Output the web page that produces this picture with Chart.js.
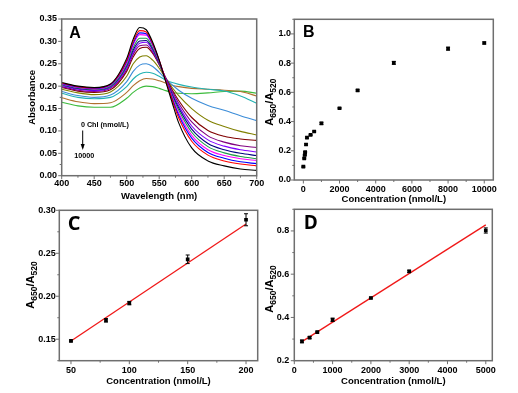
<!DOCTYPE html>
<html lang="en">
<head>
<meta charset="UTF-8">
<title>Chl absorbance panels</title>
<script src="https://cdn.jsdelivr.net/npm/chart.js@4.4.1/dist/chart.umd.min.js"></script>
<style>
  html, body { margin: 0; padding: 0; background: #fff; }
  #wrap { position: relative; width: 518px; height: 393px; }
  #wrap canvas { position: absolute; left: 0; top: 0; }
</style>
</head>
<body>
<div id="wrap">
  <canvas id="chartA" width="518" height="393"></canvas>
  <canvas id="chartB" width="518" height="393"></canvas>
  <canvas id="chartC" width="518" height="393"></canvas>
  <canvas id="chartD" width="518" height="393"></canvas>
</div>
<script>
const FONT = "'Liberation Sans', Arial, sans-serif";

// ---- panel A: spectra ----
const wavelength = [400, 425, 450, 475, 500, 510, 520, 530, 540, 550, 560, 570, 580, 600, 625, 650, 675, 700];
const chlLevels = [0, 50, 80, 100, 150, 200, 400, 600, 1000, 2000, 3000, 5000, 8000, 10000];
const abs0     = [0.208, 0.200, 0.197, 0.205, 0.262, 0.305, 0.331, 0.326, 0.298, 0.258, 0.210, 0.163, 0.118, 0.062, 0.033, 0.022, 0.015, 0.012];
const abs50    = [0.207, 0.199, 0.196, 0.204, 0.258, 0.300, 0.324, 0.321, 0.295, 0.258, 0.213, 0.169, 0.129, 0.077, 0.046, 0.033, 0.026, 0.022];
const abs80    = [0.206, 0.198, 0.195, 0.203, 0.255, 0.296, 0.319, 0.317, 0.293, 0.257, 0.214, 0.172, 0.135, 0.084, 0.052, 0.039, 0.031, 0.027];
const abs100   = [0.205, 0.197, 0.194, 0.202, 0.252, 0.292, 0.315, 0.314, 0.291, 0.256, 0.215, 0.175, 0.140, 0.090, 0.058, 0.045, 0.038, 0.034];
const abs150   = [0.204, 0.196, 0.193, 0.200, 0.248, 0.286, 0.307, 0.307, 0.286, 0.253, 0.215, 0.178, 0.146, 0.097, 0.065, 0.051, 0.043, 0.038];
const abs200   = [0.203, 0.195, 0.192, 0.199, 0.245, 0.281, 0.301, 0.302, 0.283, 0.252, 0.216, 0.181, 0.151, 0.104, 0.072, 0.058, 0.050, 0.045];
const abs400   = [0.201, 0.193, 0.190, 0.197, 0.241, 0.276, 0.296, 0.298, 0.280, 0.251, 0.217, 0.184, 0.156, 0.111, 0.080, 0.066, 0.058, 0.053];
const abs600   = [0.199, 0.191, 0.188, 0.195, 0.237, 0.271, 0.290, 0.292, 0.276, 0.249, 0.218, 0.188, 0.162, 0.120, 0.089, 0.075, 0.067, 0.063];
const abs1000  = [0.197, 0.189, 0.186, 0.192, 0.233, 0.265, 0.284, 0.287, 0.273, 0.248, 0.219, 0.192, 0.168, 0.130, 0.101, 0.088, 0.082, 0.079];
const abs2000  = [0.193, 0.185, 0.181, 0.187, 0.222, 0.250, 0.265, 0.268, 0.258, 0.240, 0.218, 0.197, 0.179, 0.150, 0.124, 0.110, 0.099, 0.091];
const abs3000  = [0.188, 0.179, 0.175, 0.180, 0.210, 0.233, 0.247, 0.250, 0.244, 0.231, 0.216, 0.203, 0.191, 0.173, 0.157, 0.146, 0.134, 0.123];
const abs5000  = [0.184, 0.175, 0.172, 0.175, 0.199, 0.216, 0.227, 0.231, 0.229, 0.222, 0.214, 0.208, 0.204, 0.198, 0.193, 0.189, 0.178, 0.162];
const abs8000  = [0.174, 0.165, 0.161, 0.163, 0.186, 0.201, 0.212, 0.217, 0.216, 0.212, 0.207, 0.202, 0.199, 0.195, 0.193, 0.191, 0.188, 0.178];
const abs10000 = [0.164, 0.156, 0.153, 0.153, 0.173, 0.186, 0.196, 0.200, 0.199, 0.195, 0.190, 0.186, 0.184, 0.183, 0.185, 0.188, 0.189, 0.184];
const absCurves = [abs0, abs50, abs80, abs100, abs150, abs200, abs400, abs600, abs1000, abs2000, abs3000, abs5000, abs8000, abs10000];
const curveColors = ['#000000', '#ff0000', '#0000ff', '#ff00ff', '#1f9a4a', '#000080', '#8000ff', '#800080',
                     '#800000', '#808000', '#3c8dd8', '#22b2b2', '#b0702e', '#3cbb3c'];
const aXTicks = [400, 450, 500, 550, 600, 650, 700];
const aYTicks = [0.00, 0.05, 0.10, 0.15, 0.20, 0.25, 0.30, 0.35];

// ---- panel B: ratio vs concentration ----
const bConc  = [0, 50, 80, 100, 150, 200, 400, 600, 1000, 2000, 3000, 5000, 8000, 10000];
const bRatio = [0.091, 0.148, 0.171, 0.191, 0.243, 0.290, 0.309, 0.332, 0.388, 0.491, 0.613, 0.802, 0.899, 0.938];
const bErr   = [0.004, 0.004, 0.004, 0.004, 0.005, 0.005, 0.004, 0.004, 0.007, 0.004, 0.005, 0.010, 0.010, 0.007];
const bXTicks = [0, 2000, 4000, 6000, 8000, 10000];
const bYTicks = [0.0, 0.2, 0.4, 0.6, 0.8, 1.0];

// ---- panel C: low range linear fit ----
const cConc  = [50, 80, 100, 150, 200];
const cRatio = [0.148, 0.172, 0.192, 0.243, 0.289];
const cErr   = [0.001, 0.002, 0.002, 0.005, 0.007];
const cFitX  = [50, 200];
const cFitY  = [0.148, 0.284];
const cXTicks = [50, 100, 150, 200];
const cYTicks = [0.15, 0.20, 0.25, 0.30];

// ---- panel D: high range linear fit ----
const dConc  = [200, 400, 600, 1000, 2000, 3000, 5000];
const dRatio = [0.289, 0.307, 0.332, 0.389, 0.490, 0.613, 0.802];
const dErr   = [0.006, 0.005, 0.004, 0.008, 0.004, 0.005, 0.012];
const dFitX  = [200, 5000];
const dFitY  = [0.288, 0.828];
const dXTicks = [0, 1000, 2000, 3000, 4000, 5000];
const dYTicks = [0.2, 0.4, 0.6, 0.8];

// major ticks plus half-step minor ticks inside the range
function withMinor(major, min, max) {
  const out = [];
  const step = major[1] - major[0];
  const r = v => Math.round(v * 1e6) / 1e6;
  for (let v = major[0] - step / 2; v <= max + 1e-9; v += step / 2) {
    const rv = r(v);
    if (rv < min - 1e-9) continue;
    out.push({ value: rv, isMajor: major.some(m => Math.abs(m - rv) < 1e-9) });
  }
  return out;
}

function scaleOpts(o) {
  return {
    type: 'linear', min: o.min, max: o.max,
    grid: { display: false, drawTicks: false },
    border: { display: false },
    afterBuildTicks: s => { s.ticks = withMinor(o.major, o.min, o.max); },
    afterFit: s => { if (s.isHorizontal()) s.height = o.size; else s.width = o.size; },
    ticks: {
      autoSkip: false, maxRotation: 0, padding: o.pad, color: '#000',
      font: { family: FONT, size: 9, weight: 'bold' },
      callback: function (v, i, ticks) { return ticks[i].isMajor ? o.fmt(v) : ''; }
    },
    title: o.title
      ? { display: true, text: o.title, color: '#000', padding: 0, font: { family: FONT, size: 9.5, weight: 'bold' } }
      : { display: false }
  };
}

// tick marks and grey box round the plot
const framePlugin = {
  id: 'frame',
  afterDraw(chart) {
    const { ctx, chartArea: a } = chart;
    ctx.save();
    ctx.strokeStyle = '#6f6f6f';
    ctx.lineWidth = 1;
    Object.values(chart.scales).forEach(s => {
      s.ticks.forEach(t => {
        const p = s.getPixelForValue(t.value);
        const len = t.isMajor ? 3.5 : 2;
        ctx.beginPath();
        if (s.isHorizontal()) { ctx.moveTo(p, a.bottom); ctx.lineTo(p, a.bottom + len); }
        else { ctx.moveTo(a.left, p); ctx.lineTo(a.left - len, p); }
        ctx.stroke();
      });
    });
    ctx.lineWidth = 1.5;
    ctx.strokeRect(a.left, a.top, a.right - a.left, a.bottom - a.top);
    ctx.restore();
  }
};

// panel letter
const letterPlugin = {
  id: 'letter',
  afterDraw(chart, args, opts) {
    if (!opts.text) return;
    const { ctx, chartArea: a } = chart;
    ctx.save();
    ctx.fillStyle = '#000';
    ctx.font = 'bold ' + opts.size + 'px ' + opts.family;
    ctx.textBaseline = 'alphabetic';
    ctx.fillText(opts.text, a.left + opts.dx, a.top + opts.dy);
    ctx.restore();
  }
};

// vertical error bars
const errPlugin = {
  id: 'errbars',
  afterDatasetsDraw(chart) {
    const { ctx } = chart;
    const ys = chart.scales.y;
    chart.data.datasets.forEach((ds, i) => {
      if (!ds.errors) return;
      const meta = chart.getDatasetMeta(i);
      ctx.save();
      ctx.strokeStyle = '#000';
      ctx.lineWidth = 1;
      meta.data.forEach((pt, j) => {
        const v = ds.data[j].y, e = ds.errors[j];
        const y1 = ys.getPixelForValue(v + e), y2 = ys.getPixelForValue(v - e);
        ctx.beginPath();
        ctx.moveTo(pt.x, y1); ctx.lineTo(pt.x, y2);
        ctx.moveTo(pt.x - 2, y1); ctx.lineTo(pt.x + 2, y1);
        ctx.moveTo(pt.x - 2, y2); ctx.lineTo(pt.x + 2, y2);
        ctx.stroke();
      });
      ctx.restore();
    });
  }
};

// y title A650/A520 with subscripts
const ratioTitlePlugin = {
  id: 'ratioTitle',
  afterDraw(chart, args, opts) {
    if (!opts.show) return;
    const { ctx, chartArea: a } = chart;
    const parts = [['A', 11, 0], ['650', 8.5, 2.8], ['/A', 11, 0], ['520', 8.5, 2.8]];
    ctx.save();
    ctx.translate(a.left - opts.dx, (a.top + a.bottom) / 2 + opts.dy);
    ctx.rotate(-Math.PI / 2);
    ctx.fillStyle = '#000';
    ctx.textBaseline = 'alphabetic';
    let total = 0;
    parts.forEach(p => { ctx.font = 'bold ' + p[1] + 'px ' + FONT; total += ctx.measureText(p[0]).width; });
    let x = -total / 2;
    parts.forEach(p => {
      ctx.font = 'bold ' + p[1] + 'px ' + FONT;
      ctx.fillText(p[0], x, 4 + p[2]);
      x += ctx.measureText(p[0]).width;
    });
    ctx.restore();
  }
};

// "0 Chl (nmol/L)" arrow note in panel A
const notePlugin = {
  id: 'note',
  afterDraw(chart, args, opts) {
    if (!opts.show) return;
    const { ctx, chartArea: a } = chart;
    const x0 = a.left, y0 = a.top;
    ctx.save();
    ctx.fillStyle = '#000';
    ctx.strokeStyle = '#000';
    ctx.font = 'bold 7.2px ' + FONT;
    ctx.textBaseline = 'middle';
    ctx.fillText('0 Chl (nmol/L)', x0 + 19.2, y0 + 106.5);
    ctx.fillText('10000', x0 + 12.6, y0 + 137.5);
    ctx.lineWidth = 1;
    ctx.beginPath();
    ctx.moveTo(x0 + 21, y0 + 111.5); ctx.lineTo(x0 + 21, y0 + 129);
    ctx.stroke();
    ctx.beginPath();
    ctx.moveTo(x0 + 19, y0 + 125); ctx.lineTo(x0 + 21, y0 + 131); ctx.lineTo(x0 + 23, y0 + 125);
    ctx.closePath();
    ctx.fill();
    ctx.restore();
  }
};

Chart.register(framePlugin, letterPlugin, errPlugin, ratioTitlePlugin, notePlugin);

const fmt2 = v => v.toFixed(2);
const fmt1 = v => v.toFixed(1);
const fmt0 = v => String(v);

function baseOptions(padding, xs, ys, plugins) {
  return {
    responsive: false, animation: false, devicePixelRatio: 1,
    layout: { padding: padding },
    scales: { x: xs, y: ys },
    plugins: Object.assign({ legend: { display: false }, tooltip: { enabled: false } }, plugins)
  };
}

function pts(xs, ys) { return xs.map((x, i) => ({ x: x, y: ys[i] })); }

// Panel A
new Chart(document.getElementById('chartA'), {
  type: 'line',
  data: {
    datasets: absCurves.map((c, i) => ({
      label: chlLevels[i] + ' nmol/L',
      data: pts(wavelength, c),
      borderColor: curveColors[i], borderWidth: 1.1,
      pointRadius: 0, fill: false, cubicInterpolationMode: 'monotone'
    }))
  },
  options: baseOptions(
    { left: 26.8, top: 19, right: 261.3, bottom: 191.3 },
    scaleOpts({ min: 400, max: 700, major: aXTicks, fmt: fmt0, size: 26, pad: 2.8, title: 'Wavelength (nm)' }),
    scaleOpts({ min: 0, max: 0.35, major: aYTicks, fmt: fmt2, size: 34.9, pad: 4.7, title: 'Absorbance' }),
    { letter: { text: 'A', size: 16, family: FONT, dx: 7.5, dy: 19 }, note: { show: true } }
  )
});

function ratioChart(id, conc, ratio, err, fitX, fitY) {
  const ds = [{
    type: 'scatter', data: pts(conc, ratio), errors: err,
    backgroundColor: '#000', borderColor: '#000', pointStyle: 'rect', pointRadius: 2.6, borderWidth: 0
  }];
  if (fitX) {
    ds.push({ type: 'line', data: pts(fitX, fitY), borderColor: '#f01818', borderWidth: 1.3, pointRadius: 0, fill: false });
  }
  return { el: document.getElementById(id), datasets: ds };
}

// Panel B
const rb = ratioChart('chartB', bConc, bRatio, bErr);
new Chart(rb.el, {
  type: 'scatter',
  data: { datasets: rb.datasets },
  options: baseOptions(
    { left: 264.3, top: 19.3, right: 24.7, bottom: 188.3 },
    scaleOpts({ min: -500, max: 10500, major: bXTicks, fmt: fmt0, size: 24.7, pad: 4.2, title: 'Concentration (nmol/L)' }),
    scaleOpts({ min: 0, max: 1.1, major: bYTicks, fmt: fmt1, size: 30, pad: 3.3 }),
    { letter: { text: 'B', size: 16, family: FONT, dx: 8.7, dy: 18 }, ratioTitle: { show: true, dx: 25.3, dy: 2.5 } }
  )
});

// Panel C
const rc = ratioChart('chartC', cConc, cRatio, cErr, cFitX, cFitY);
new Chart(rc.el, {
  type: 'scatter',
  data: { datasets: rc.datasets },
  options: baseOptions(
    { left: 29.3, top: 210.3, right: 260.3, bottom: 5.8 },
    scaleOpts({ min: 40, max: 210, major: cXTicks, fmt: fmt0, size: 26.5, pad: 4.5, title: 'Concentration (nmol/L)' }),
    scaleOpts({ min: 0.125, max: 0.30, major: cYTicks, fmt: fmt2, size: 30, pad: 3.6 }),
    { letter: { text: 'C', size: 20, family: "'Open Sans', " + FONT, dx: 8.5, dy: 19.7 }, ratioTitle: { show: true, dx: 29.3, dy: -0.5 } }
  )
});

// Panel D
const rd = ratioChart('chartD', dConc, dRatio, dErr, dFitX, dFitY);
new Chart(rd.el, {
  type: 'scatter',
  data: { datasets: rd.datasets },
  options: baseOptions(
    { left: 264.3, top: 209.3, right: 25.7, bottom: 5.8 },
    scaleOpts({ min: 0, max: 5170, major: dXTicks, fmt: fmt0, size: 26.5, pad: 4.5, title: 'Concentration (nmol/L)' }),
    scaleOpts({ min: 0.2, max: 0.9, major: dYTicks, fmt: fmt1, size: 30, pad: 5 }),
    { letter: { text: 'D', size: 19, family: "'Open Sans', " + FONT, dx: 9.5, dy: 20 }, ratioTitle: { show: true, dx: 25.3, dy: 4 } }
  )
});
</script>
</body>
</html>
